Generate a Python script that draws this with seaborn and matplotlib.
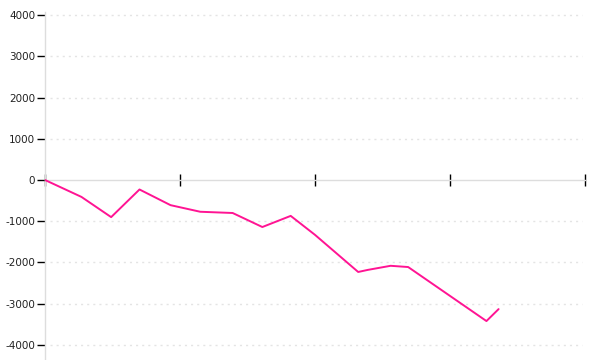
import matplotlib
matplotlib.use("Agg")
import matplotlib.pyplot as plt
import seaborn as sns
import pandas as pd

x_vals = [0.0, 0.27, 0.49, 0.70, 0.93, 1.15, 1.39, 1.61, 1.82, 2.00, 2.32, 2.39, 2.56, 2.69, 3.27, 3.36]
y_vals = [0, -410, -900, -230, -610, -770, -800, -1140, -870, -1330, -2230, -2180, -2080, -2110, -3420, -3130]
y_ticks = [-4000, -3000, -2000, -1000, 0, 1000, 2000, 3000, 4000]
x_ticks = [0, 1, 2, 3, 4]

df = pd.DataFrame({"x": x_vals, "y": y_vals})

sns.set_style("white")
plt.rcParams['font.family'] = ['DejaVu Sans']

fig = plt.figure(figsize=(6, 3.6), dpi=100)
ax = fig.add_axes([45/600, 0, 540/600, 348/360])

for t in y_ticks:
    if t != 0:
        ax.axhline(t, xmin=0.01, xmax=0.995, color="#e4e4e4", lw=1, ls=(0, (1.5, 2.9)), zorder=0)

sns.lineplot(data=df, x="x", y="y", ax=ax, color="#ff1493", lw=1.4, zorder=3)

ax.set_xlim(0, 4)
ax.set_ylim(-4364, 4073)
ax.set_yticks(y_ticks)
ax.set_yticklabels([str(t) for t in y_ticks])
ax.set_xticks(x_ticks)
ax.set_xticklabels([])
ax.set_xlabel("")
ax.set_ylabel("")

for s in ["top", "right"]:
    ax.spines[s].set_visible(False)
ax.spines["bottom"].set_position(("data", 0))
ax.spines["bottom"].set_color("#dddddd")
ax.spines["left"].set_color("#dddddd")
ax.spines["bottom"].set_linewidth(1)
ax.spines["left"].set_linewidth(1)

ax.tick_params(axis="x", direction="inout", length=8, width=1, color="black", bottom=True)
ax.tick_params(axis="y", direction="out", length=6, width=1, color="black", left=True,
               labelsize=7.5, pad=1, labelcolor="#222222")

fig.savefig("out.png", dpi=100, facecolor="white")
